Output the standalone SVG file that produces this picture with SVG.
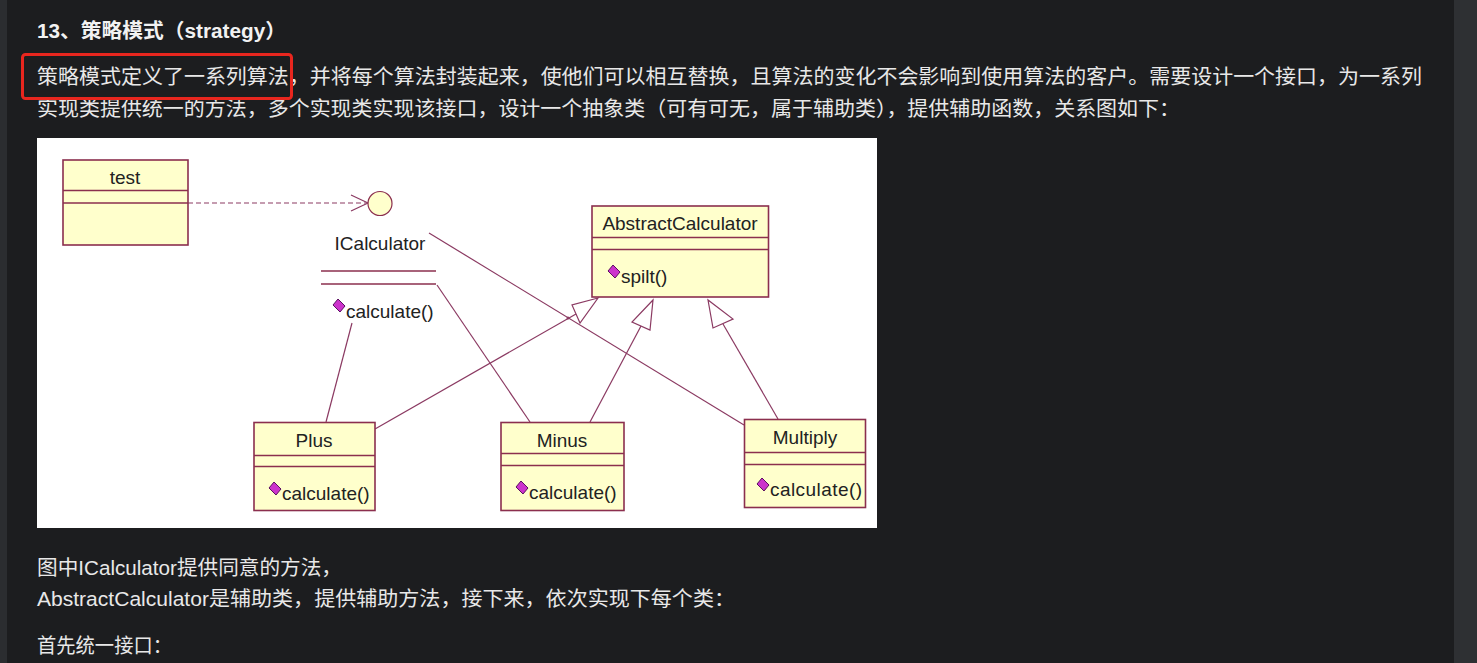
<svg xmlns="http://www.w3.org/2000/svg" xmlns:xlink="http://www.w3.org/1999/xlink" width="1477" height="663" viewBox="0 0 1477 663">
<style>
.pg{font-family:"Liberation Sans","Noto Sans CJK SC",sans-serif;fill:#e8e8e8;font-size:20.5px}
.ttl{font-family:"Liberation Sans","Noto Sans CJK SC",sans-serif;fill:#f2f2f2;font-size:20px;font-weight:bold}
.box{fill:#ffffcc;stroke:#8b2f4e;stroke-width:1.6}
.sep{stroke:#8b2f4e;stroke-width:1.6}
.nm{font-family:"Liberation Sans",Arial,sans-serif;font-size:19px;fill:#222;text-anchor:middle}
.op{font-family:"Liberation Sans",Arial,sans-serif;font-size:19px;fill:#222}
.ln{stroke:#8b3a62;stroke-width:1.2;fill:none}
.tri{fill:#ffffff;stroke:#8b3a62;stroke-width:1.2}
</style>
<defs>
<polygon id="dm" points="0,6 5,0 12,7 7,13" fill="#cc33cc" stroke="#5a1060" stroke-width="1"/>
</defs>
<rect x="0" y="0" width="1477" height="663" fill="#1c1d1f"/>
<rect x="0" y="0" width="7" height="663" fill="#2b2d30"/>
<rect x="1454" y="0" width="23" height="663" fill="#2e3033"/>

<g id="page-text">
<text class="ttl" x="37" y="38" textLength="249" lengthAdjust="spacingAndGlyphs">13、策略模式（strategy）</text>
<text class="pg" x="37" y="84" textLength="1385" lengthAdjust="spacingAndGlyphs">策略模式定义了一系列算法，并将每个算法封装起来，使他们可以相互替换，且算法的变化不会影响到使用算法的客户。需要设计一个接口，为一系列</text>
<text class="pg" x="37" y="116" textLength="1143" lengthAdjust="spacingAndGlyphs">实现类提供统一的方法，多个实现类实现该接口，设计一个抽象类（可有可无，属于辅助类），提供辅助函数，关系图如下：</text>
<text class="pg" x="37" y="575" textLength="305" lengthAdjust="spacingAndGlyphs">图中ICalculator提供同意的方法，</text>
<text class="pg" x="37" y="606" textLength="698" lengthAdjust="spacingAndGlyphs">AbstractCalculator是辅助类，提供辅助方法，接下来，依次实现下每个类：</text>
<text class="pg" x="37" y="653" textLength="135" lengthAdjust="spacingAndGlyphs">首先统一接口：</text>
</g>
<rect id="highlight" x="22.5" y="54.5" width="269" height="44" rx="3" fill="none" stroke="#e8261e" stroke-width="3"/>

<rect x="37" y="138" width="840" height="390" fill="#ffffff"/>

<g id="connectors">
<line class="ln" x1="188" y1="203" x2="367" y2="203" stroke-dasharray="5,3"/>
<polyline class="ln" points="351,195 368,203 351,211"/>
<line class="ln" x1="352" y1="323" x2="326" y2="422"/>
<line class="ln" x1="437" y1="285" x2="530" y2="422"/>
<line class="ln" x1="429" y1="233" x2="744" y2="425"/>
<line class="ln" x1="375" y1="429" x2="576" y2="314"/>
<polygon class="tri" points="598,298 572,305 580,323"/>
<line class="ln" x1="590" y1="422" x2="641" y2="326"/>
<polygon class="tri" points="653,300 632,322 650,330"/>
<line class="ln" x1="778" y1="419" x2="723" y2="324"/>
<polygon class="tri" points="708,300 713,328 733,319"/>
<circle cx="568" cy="318" r="1.5" fill="#8b3a62"/>
</g>

<g id="test">
<rect class="box" x="63" y="160" width="125" height="85"/>
<line class="sep" x1="63" y1="190.5" x2="188" y2="190.5"/>
<line class="sep" x1="63" y1="203" x2="188" y2="203"/>
<text class="nm" x="125" y="184">test</text>
</g>

<g id="ICalculator">
<circle cx="380" cy="203.5" r="12" fill="#ffffcc" stroke="#8b2f4e" stroke-width="1.2"/>
<text class="nm" x="380" y="250">ICalculator</text>
<line class="sep" x1="321" y1="271" x2="436" y2="271"/>
<line class="sep" x1="321" y1="284" x2="436" y2="284"/>
<use xlink:href="#dm" x="333" y="299"/>
<text class="op" x="346" y="318">calculate()</text>
</g>

<g id="AbstractCalculator">
<rect class="box" x="592" y="206" width="176.5" height="91"/>
<line class="sep" x1="592" y1="237.5" x2="768.5" y2="237.5"/>
<line class="sep" x1="592" y1="249.5" x2="768.5" y2="249.5"/>
<text class="nm" x="680" y="230">AbstractCalculator</text>
<use xlink:href="#dm" x="608" y="265"/>
<text class="op" x="621" y="283">spilt()</text>
</g>

<g id="Plus">
<rect class="box" x="254" y="422.5" width="121" height="88"/>
<line class="sep" x1="254" y1="455.5" x2="375" y2="455.5"/>
<line class="sep" x1="254" y1="466.5" x2="375" y2="466.5"/>
<text class="nm" x="314" y="447">Plus</text>
<use xlink:href="#dm" x="269" y="482"/>
<text class="op" x="282" y="500">calculate()</text>
</g>

<g id="Minus">
<rect class="box" x="501" y="422.5" width="123" height="88"/>
<line class="sep" x1="501" y1="453.5" x2="624" y2="453.5"/>
<line class="sep" x1="501" y1="465.5" x2="624" y2="465.5"/>
<text class="nm" x="562" y="447">Minus</text>
<use xlink:href="#dm" x="516" y="481"/>
<text class="op" x="529" y="499">calculate()</text>
</g>

<g id="Multiply">
<rect class="box" x="744.5" y="419.5" width="121" height="88"/>
<line class="sep" x1="744.5" y1="452.5" x2="865.5" y2="452.5"/>
<line class="sep" x1="744.5" y1="464.5" x2="865.5" y2="464.5"/>
<text class="nm" x="805" y="444">Multiply</text>
<use xlink:href="#dm" x="757" y="478"/>
<text class="op" x="770" y="496" textLength="92" lengthAdjust="spacing">calculate()</text>
</g>
</svg>
